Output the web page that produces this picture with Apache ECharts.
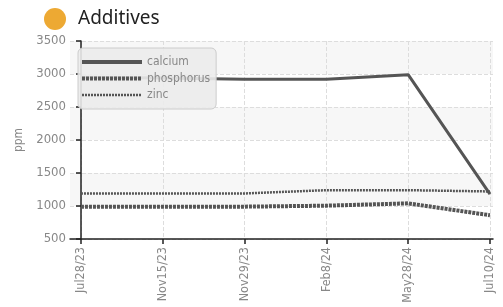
<!DOCTYPE html>
<html><head><meta charset="utf-8">
<script src="https://cdn.jsdelivr.net/npm/echarts@6/dist/echarts.min.js"></script>
<style>html,body{margin:0;padding:0;background:#fff}#c{width:503px;height:307px}</style>
</head><body><div id="c"></div>
<script>
var categories = ['Jul28/23','Nov15/23','Nov29/23','Feb8/24','May28/24','Jul10/24'];
var calcium = [2950, 2940, 2920, 2920, 2990, 1180];
var phosphorus = [990, 990, 990, 1005, 1040, 860];
var zinc = [1190, 1190, 1190, 1240, 1240, 1220];
var yTicks = [500, 1000, 1500, 2000, 2500, 3000, 3500];

function pairs(arr){ return arr.map(function(v,i){ return [i, v]; }); }
var idx = categories.map(function(c,i){ return i; });
var font = '"DejaVu Sans Condensed", "Liberation Sans Narrow", sans-serif';

var chart = echarts.init(document.getElementById('c'));
chart.setOption({
  animation: false,
  title: { text: 'Additives', left: 73, top: 4, textStyle: { fontFamily: '"Noto Sans", sans-serif', fontSize: 19, fontWeight: 'normal', color: '#222' } },
  graphic: [{ type: 'circle', shape: { cx: 55, cy: 19, r: 11 }, style: { fill: '#EDA933' } }],
  grid: { left: 70, right: 10, top: 41, bottom: 68 },
  legend: {
    orient: 'vertical', left: 78, top: 48,
    itemWidth: 60, itemHeight: 10, itemGap: 4.5,
    padding: [8, 6, 8, 2],
    backgroundColor: 'rgba(235,235,235,0.9)', borderColor: '#ccc', borderWidth: 1, borderRadius: 5,
    textStyle: { color: '#888', fontSize: 12, fontFamily: font },
    itemStyle: { opacity: 0 },
    data: [
      { name: 'calcium', lineStyle: { width: 4, type: 'solid' } },
      { name: 'phosphorus', lineStyle: { width: 4, type: [3, 1] } },
      { name: 'zinc', lineStyle: { width: 2.5, type: [2, 1] } }
    ]
  },
  xAxis: {
    type: 'value', min: -0.134, max: 5.037,
    axisLine: { show: true, lineStyle: { color: '#222', width: 1.5 } },
    axisTick: { show: true, customValues: idx, length: 5, lineStyle: { color: '#222', width: 1.5 } },
    axisLabel: { customValues: idx, rotate: 90, color: '#888', fontSize: 12.5, fontFamily: font,
      formatter: function(v){ return categories[Math.round(v)]; } },
    splitLine: { show: true, lineStyle: { color: '#ddd', type: 'dashed' } }
  },
  yAxis: {
    type: 'value', min: 500, max: 3500, interval: 500,
    name: 'ppm', nameLocation: 'middle', nameGap: 34, nameRotate: 90,
    nameTextStyle: { color: '#888', fontSize: 12, fontFamily: font },
    axisLine: { show: true, lineStyle: { color: '#222', width: 1.5 } },
    axisTick: { show: true, length: 5, lineStyle: { color: '#222', width: 1.5 } },
    axisLabel: { color: '#888', fontSize: 13, fontFamily: font, margin: 4,
      formatter: function(v){ return String(v); } },
    splitLine: { show: true, lineStyle: { color: '#ddd', type: 'dashed' } },
    splitArea: { show: true, areaStyle: { color: ['#ffffff', '#f7f7f7'] } }
  },
  series: [
    { name: 'calcium', type: 'line', data: pairs(calcium), symbol: 'none',
      lineStyle: { color: '#555', width: 3, type: 'solid' }, itemStyle: { color: '#555' } },
    { name: 'phosphorus', type: 'line', data: pairs(phosphorus), symbol: 'none',
      lineStyle: { color: '#555', width: 4, type: [3, 1] }, itemStyle: { color: '#555' } },
    { name: 'zinc', type: 'line', data: pairs(zinc), symbol: 'none',
      lineStyle: { color: '#555', width: 2.5, type: [2, 1] }, itemStyle: { color: '#555' } }
  ]
});
</script></body></html>
